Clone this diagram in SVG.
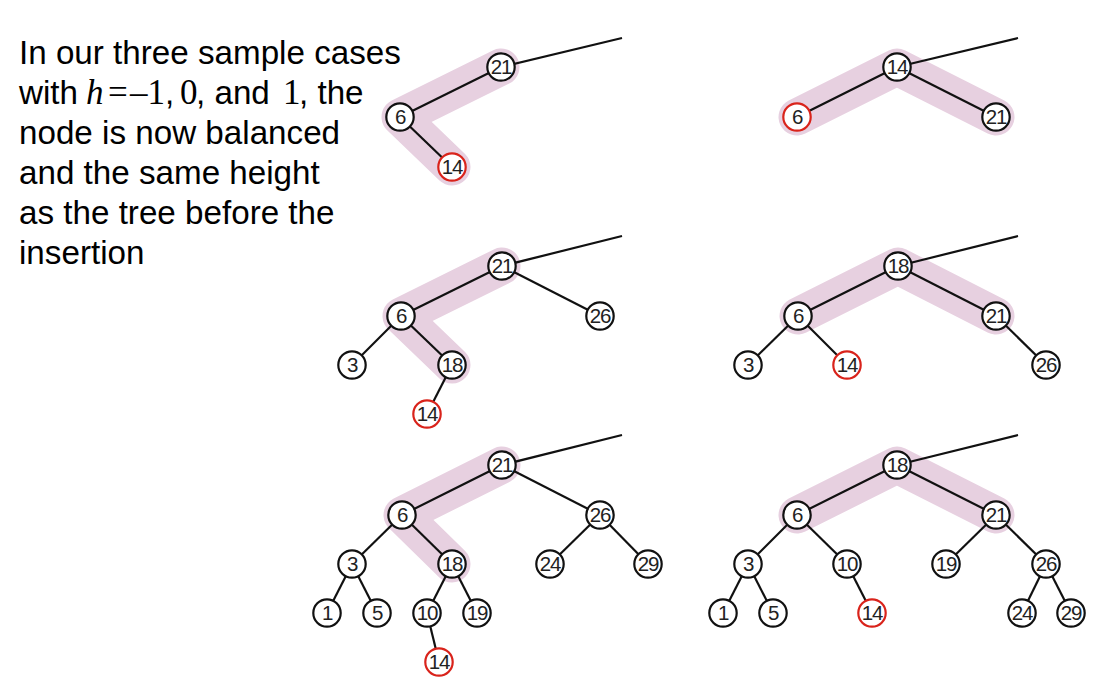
<svg xmlns="http://www.w3.org/2000/svg" width="1107" height="686" viewBox="0 0 1107 686">
<style>
.band{fill:none;stroke:#e7d0e0;stroke-width:37;stroke-linecap:round;stroke-linejoin:round}
.edge{stroke:#111;stroke-width:2.2;fill:none}
.n circle{fill:#fff;stroke:#111;stroke-width:2.2}
.n.red circle{stroke:#d9231b}
.n text{font-family:"Liberation Sans",Arial,sans-serif;font-size:20.5px;letter-spacing:-1.2px;fill:#222;text-anchor:middle}
.t{font-family:"Liberation Sans",Arial,sans-serif;font-size:33.2px;fill:#000}
.m{font-family:"Liberation Serif","Times New Roman",serif;font-size:35px}
</style>
<rect width="1107" height="686" fill="#fff"/>
<g id="caption" class="t">
<text x="19" y="64">In our three sample cases</text>
<text x="19" y="104">with<tspan class="m" font-style="italic" x="86">h</tspan><tspan class="m" x="108">=</tspan><tspan class="m" x="130">–1</tspan><tspan x="165">,</tspan><tspan class="m" x="180">0</tspan><tspan x="196">, and</tspan><tspan class="m" x="283" font-size="33">1</tspan><tspan x="299">, the</tspan></text>
<text x="19" y="144">node is now balanced</text>
<text x="19" y="184">and the same height</text>
<text x="19" y="224">as the tree before the</text>
<text x="19" y="264">insertion</text>
</g>
<g id="highlights">
<path class="band" d="M501,67 L400,117 L452,167"/>
<path class="band" d="M797,117 L897,67 L996,117"/>
<path class="band" d="M502,266 L401,316 L452,365"/>
<path class="band" d="M798,316 L898,266 L996,316"/>
<path class="band" d="M502,465 L402,515 L452,564"/>
<path class="band" d="M797,515 L897,465 L996,515"/>
</g>
<g id="connectors" class="edge">
<line x1="501" y1="67" x2="622" y2="38"/>
<line x1="501" y1="67" x2="400" y2="117"/>
<line x1="400" y1="117" x2="452" y2="167"/>
<line x1="897" y1="67" x2="1018" y2="38"/>
<line x1="897" y1="67" x2="797" y2="117"/>
<line x1="897" y1="67" x2="996" y2="117"/>
<line x1="502" y1="266" x2="622" y2="236"/>
<line x1="502" y1="266" x2="401" y2="316"/>
<line x1="502" y1="266" x2="600" y2="316"/>
<line x1="401" y1="316" x2="352" y2="365"/>
<line x1="401" y1="316" x2="452" y2="365"/>
<line x1="452" y1="365" x2="427" y2="414"/>
<line x1="898" y1="266" x2="1018" y2="236"/>
<line x1="898" y1="266" x2="798" y2="316"/>
<line x1="898" y1="266" x2="996" y2="316"/>
<line x1="798" y1="316" x2="748" y2="365"/>
<line x1="798" y1="316" x2="847" y2="365"/>
<line x1="996" y1="316" x2="1046" y2="365"/>
<line x1="502" y1="465" x2="622" y2="435"/>
<line x1="502" y1="465" x2="402" y2="515"/>
<line x1="502" y1="465" x2="600" y2="515"/>
<line x1="402" y1="515" x2="352" y2="564"/>
<line x1="402" y1="515" x2="452" y2="564"/>
<line x1="600" y1="515" x2="550" y2="564"/>
<line x1="600" y1="515" x2="648" y2="564"/>
<line x1="352" y1="564" x2="327" y2="613"/>
<line x1="352" y1="564" x2="377" y2="613"/>
<line x1="452" y1="564" x2="427" y2="613"/>
<line x1="452" y1="564" x2="477" y2="613"/>
<line x1="427" y1="613" x2="439" y2="662"/>
<line x1="897" y1="465" x2="1018" y2="435"/>
<line x1="897" y1="465" x2="797" y2="515"/>
<line x1="897" y1="465" x2="996" y2="515"/>
<line x1="797" y1="515" x2="748" y2="564"/>
<line x1="797" y1="515" x2="847" y2="564"/>
<line x1="996" y1="515" x2="946" y2="564"/>
<line x1="996" y1="515" x2="1046" y2="564"/>
<line x1="748" y1="564" x2="723" y2="613"/>
<line x1="748" y1="564" x2="773" y2="613"/>
<line x1="847" y1="564" x2="872" y2="613"/>
<line x1="1046" y1="564" x2="1022" y2="613"/>
<line x1="1046" y1="564" x2="1071" y2="613"/>
</g>
<g id="a21" class="n"><circle cx="501" cy="67" r="13.7"/><text x="501" y="74.3">21</text></g>
<g id="a6" class="n"><circle cx="400" cy="117" r="13.7"/><text x="400" y="124.3">6</text></g>
<g id="a14" class="n red"><circle cx="452" cy="167" r="13.7"/><text x="452" y="174.3">14</text></g>
<g id="b14" class="n"><circle cx="897" cy="67" r="13.7"/><text x="897" y="74.3">14</text></g>
<g id="b6" class="n red"><circle cx="797" cy="117" r="13.7"/><text x="797" y="124.3">6</text></g>
<g id="b21" class="n"><circle cx="996" cy="117" r="13.7"/><text x="996" y="124.3">21</text></g>
<g id="c21" class="n"><circle cx="502" cy="266" r="13.7"/><text x="502" y="273.3">21</text></g>
<g id="c6" class="n"><circle cx="401" cy="316" r="13.7"/><text x="401" y="323.3">6</text></g>
<g id="c26" class="n"><circle cx="600" cy="316" r="13.7"/><text x="600" y="323.3">26</text></g>
<g id="c3" class="n"><circle cx="352" cy="365" r="13.7"/><text x="352" y="372.3">3</text></g>
<g id="c18" class="n"><circle cx="452" cy="365" r="13.7"/><text x="452" y="372.3">18</text></g>
<g id="c14" class="n red"><circle cx="427" cy="414" r="13.7"/><text x="427" y="421.3">14</text></g>
<g id="d18" class="n"><circle cx="898" cy="266" r="13.7"/><text x="898" y="273.3">18</text></g>
<g id="d6" class="n"><circle cx="798" cy="316" r="13.7"/><text x="798" y="323.3">6</text></g>
<g id="d21" class="n"><circle cx="996" cy="316" r="13.7"/><text x="996" y="323.3">21</text></g>
<g id="d3" class="n"><circle cx="748" cy="365" r="13.7"/><text x="748" y="372.3">3</text></g>
<g id="d14" class="n red"><circle cx="847" cy="365" r="13.7"/><text x="847" y="372.3">14</text></g>
<g id="d26" class="n"><circle cx="1046" cy="365" r="13.7"/><text x="1046" y="372.3">26</text></g>
<g id="e21" class="n"><circle cx="502" cy="465" r="13.7"/><text x="502" y="472.3">21</text></g>
<g id="e6" class="n"><circle cx="402" cy="515" r="13.7"/><text x="402" y="522.3">6</text></g>
<g id="e26" class="n"><circle cx="600" cy="515" r="13.7"/><text x="600" y="522.3">26</text></g>
<g id="e3" class="n"><circle cx="352" cy="564" r="13.7"/><text x="352" y="571.3">3</text></g>
<g id="e18" class="n"><circle cx="452" cy="564" r="13.7"/><text x="452" y="571.3">18</text></g>
<g id="e24" class="n"><circle cx="550" cy="564" r="13.7"/><text x="550" y="571.3">24</text></g>
<g id="e29" class="n"><circle cx="648" cy="564" r="13.7"/><text x="648" y="571.3">29</text></g>
<g id="e1" class="n"><circle cx="327" cy="613" r="13.7"/><text x="327" y="620.3">1</text></g>
<g id="e5" class="n"><circle cx="377" cy="613" r="13.7"/><text x="377" y="620.3">5</text></g>
<g id="e10" class="n"><circle cx="427" cy="613" r="13.7"/><text x="427" y="620.3">10</text></g>
<g id="e19" class="n"><circle cx="477" cy="613" r="13.7"/><text x="477" y="620.3">19</text></g>
<g id="e14" class="n red"><circle cx="439" cy="662" r="13.7"/><text x="439" y="669.3">14</text></g>
<g id="f18" class="n"><circle cx="897" cy="465" r="13.7"/><text x="897" y="472.3">18</text></g>
<g id="f6" class="n"><circle cx="797" cy="515" r="13.7"/><text x="797" y="522.3">6</text></g>
<g id="f21" class="n"><circle cx="996" cy="515" r="13.7"/><text x="996" y="522.3">21</text></g>
<g id="f3" class="n"><circle cx="748" cy="564" r="13.7"/><text x="748" y="571.3">3</text></g>
<g id="f10" class="n"><circle cx="847" cy="564" r="13.7"/><text x="847" y="571.3">10</text></g>
<g id="f19" class="n"><circle cx="946" cy="564" r="13.7"/><text x="946" y="571.3">19</text></g>
<g id="f26" class="n"><circle cx="1046" cy="564" r="13.7"/><text x="1046" y="571.3">26</text></g>
<g id="f1" class="n"><circle cx="723" cy="613" r="13.7"/><text x="723" y="620.3">1</text></g>
<g id="f5" class="n"><circle cx="773" cy="613" r="13.7"/><text x="773" y="620.3">5</text></g>
<g id="f14" class="n red"><circle cx="872" cy="613" r="13.7"/><text x="872" y="620.3">14</text></g>
<g id="f24" class="n"><circle cx="1022" cy="613" r="13.7"/><text x="1022" y="620.3">24</text></g>
<g id="f29" class="n"><circle cx="1071" cy="613" r="13.7"/><text x="1071" y="620.3">29</text></g>
</svg>
